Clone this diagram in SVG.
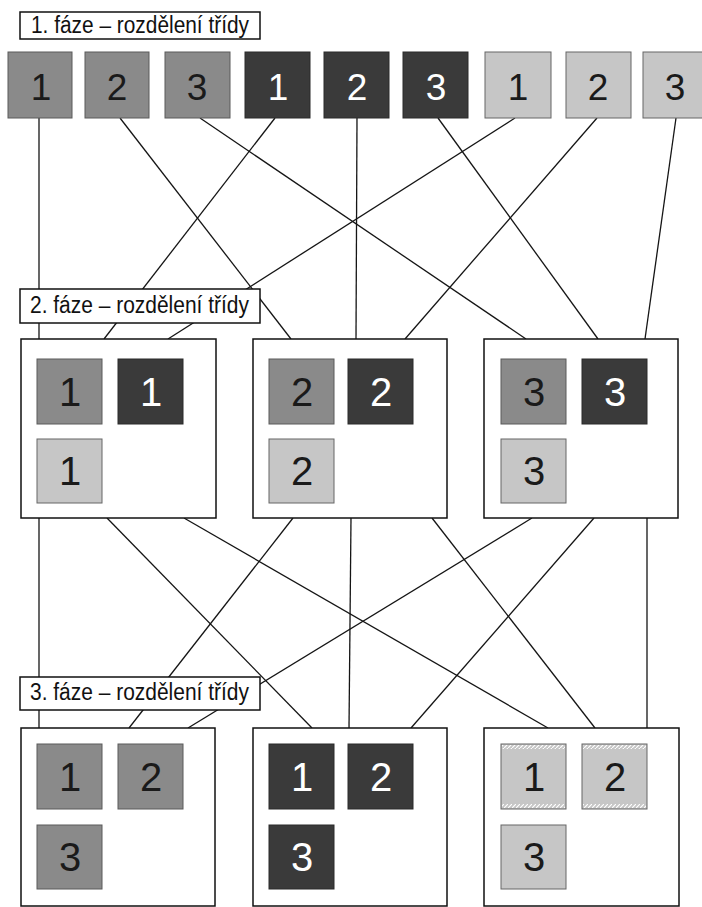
<svg xmlns="http://www.w3.org/2000/svg" width="702" height="907" viewBox="0 0 702 907">
<defs>
<style>
.bg{fill:#fff}
.lbl rect{fill:#fff;stroke:#111;stroke-width:1.5}
.lbl text{font-family:"Liberation Sans",Arial,sans-serif;font-size:23.5px;fill:#111}
.box{fill:#fff;stroke:#111;stroke-width:1.5}
.m{fill:#8a8a8a;stroke:#5a5a5a;stroke-width:1}
.d{fill:#3a3a3a;stroke:#2a2a2a;stroke-width:1}
.l{fill:#c6c6c6;stroke:#666;stroke-width:1}
.n{font-family:"Liberation Sans",Arial,sans-serif;font-size:40px;text-anchor:middle}
.nt{font-size:37px}
.k{fill:#1a1a1a}
.w{fill:#fff}
#connectors line{stroke:#151515;stroke-width:1.3}
</style>
<pattern id="hatch" width="4" height="4" patternUnits="userSpaceOnUse">
<rect width="4" height="4" fill="#c6c6c6"/>
<path d="M0 4 L4 0" stroke="#fff" stroke-width="1.2"/>
</pattern>
</defs>
<rect class="bg" width="702" height="907"/>

<g id="connectors">
<line x1="39" y1="118" x2="39" y2="339"/>
<line x1="120" y1="118" x2="291" y2="339"/>
<line x1="200" y1="118" x2="526" y2="339"/>
<line x1="275" y1="118" x2="104" y2="339"/>
<line x1="357" y1="118" x2="356" y2="339"/>
<line x1="438" y1="118" x2="598" y2="339"/>
<line x1="515" y1="118" x2="168" y2="339"/>
<line x1="597" y1="118" x2="405" y2="339"/>
<line x1="676" y1="118" x2="645" y2="339"/>
<line x1="39" y1="518" x2="39" y2="728"/>
<line x1="107" y1="518" x2="312" y2="728"/>
<line x1="184" y1="518" x2="548" y2="728"/>
<line x1="293" y1="518" x2="129" y2="728"/>
<line x1="351" y1="518" x2="349" y2="728"/>
<line x1="432" y1="518" x2="595" y2="728"/>
<line x1="532" y1="518" x2="188" y2="728"/>
<line x1="594" y1="518" x2="411" y2="728"/>
<line x1="647" y1="518" x2="647" y2="728"/>
</g>

<g id="phase1-label" class="lbl">
<rect x="20" y="12" width="240" height="27"/>
<text x="31" y="33" textLength="218" lengthAdjust="spacingAndGlyphs">1. fáze – rozdělení třídy</text>
</g>

<g id="top-row">
<g id="t1"><rect class="m" x="8" y="52" width="64" height="66"/><text class="n nt k" x="41" y="100">1</text></g>
<g id="t2"><rect class="m" x="85" y="52" width="64" height="66"/><text class="n nt k" x="117" y="100">2</text></g>
<g id="t3"><rect class="m" x="165" y="52" width="65" height="66"/><text class="n nt k" x="197" y="100">3</text></g>
<g id="t4"><rect class="d" x="245" y="52" width="65" height="66"/><text class="n nt w" x="278" y="100">1</text></g>
<g id="t5"><rect class="d" x="324" y="52" width="65" height="66"/><text class="n nt w" x="357" y="100">2</text></g>
<g id="t6"><rect class="d" x="403" y="52" width="65" height="66"/><text class="n nt w" x="436" y="100">3</text></g>
<g id="t7"><rect class="l" x="485" y="52" width="66" height="66"/><text class="n nt k" x="518" y="100">1</text></g>
<g id="t8"><rect class="l" x="566" y="52" width="65" height="66"/><text class="n nt k" x="598" y="100">2</text></g>
<g id="t9"><rect class="l" x="643" y="52" width="65" height="66"/><text class="n nt k" x="675" y="100">3</text></g>
</g>

<g id="phase2-label" class="lbl">
<rect x="20" y="289" width="240" height="34"/>
<text x="30" y="313" textLength="219" lengthAdjust="spacingAndGlyphs">2. fáze – rozdělení třídy</text>
</g>

<g id="mid1">
<rect class="box" x="21" y="339" width="195" height="179"/>
<rect class="m" x="37" y="359" width="65" height="65"/><text class="n k" x="70" y="406">1</text>
<rect class="d" x="118" y="359" width="65" height="65"/><text class="n w" x="151" y="406">1</text>
<rect class="l" x="37" y="439" width="65" height="64"/><text class="n k" x="70" y="485">1</text>
</g>
<g id="mid2">
<rect class="box" x="253" y="339" width="194" height="179"/>
<rect class="m" x="269" y="359" width="65" height="65"/><text class="n k" x="302" y="406">2</text>
<rect class="d" x="348" y="359" width="65" height="65"/><text class="n w" x="381" y="406">2</text>
<rect class="l" x="269" y="439" width="65" height="64"/><text class="n k" x="302" y="485">2</text>
</g>
<g id="mid3">
<rect class="box" x="484" y="339" width="194" height="179"/>
<rect class="m" x="501" y="359" width="65" height="65"/><text class="n k" x="534" y="406">3</text>
<rect class="d" x="582" y="359" width="65" height="65"/><text class="n w" x="615" y="406">3</text>
<rect class="l" x="501" y="439" width="65" height="64"/><text class="n k" x="534" y="485">3</text>
</g>

<g id="phase3-label" class="lbl">
<rect x="20" y="677" width="240" height="33"/>
<text x="30" y="700" textLength="219" lengthAdjust="spacingAndGlyphs">3. fáze – rozdělení třídy</text>
</g>

<g id="bot1">
<rect class="box" x="21" y="728" width="194" height="178"/>
<rect class="m" x="37" y="744" width="65" height="65"/><text class="n k" x="70" y="791">1</text>
<rect class="m" x="118" y="744" width="65" height="65"/><text class="n k" x="151" y="791">2</text>
<rect class="m" x="37" y="825" width="65" height="64"/><text class="n k" x="70" y="871">3</text>
</g>
<g id="bot2">
<rect class="box" x="253" y="728" width="194" height="178"/>
<rect class="d" x="269" y="744" width="65" height="65"/><text class="n w" x="302" y="791">1</text>
<rect class="d" x="348" y="744" width="65" height="65"/><text class="n w" x="381" y="791">2</text>
<rect class="d" x="269" y="825" width="65" height="64"/><text class="n w" x="302" y="871">3</text>
</g>
<g id="bot3">
<rect class="box" x="484" y="728" width="195" height="178"/>
<rect class="l" x="501" y="744" width="65" height="65"/>
<rect x="502" y="745" width="63" height="4" fill="url(#hatch)"/>
<rect x="502" y="804" width="63" height="4" fill="url(#hatch)"/>
<text class="n k" x="534" y="791">1</text>
<rect class="l" x="582" y="744" width="65" height="65"/>
<rect x="583" y="745" width="63" height="4" fill="url(#hatch)"/>
<rect x="583" y="804" width="63" height="4" fill="url(#hatch)"/>
<text class="n k" x="615" y="791">2</text>
<rect class="l" x="501" y="825" width="65" height="64"/><text class="n k" x="534" y="871">3</text>
</g>
</svg>
